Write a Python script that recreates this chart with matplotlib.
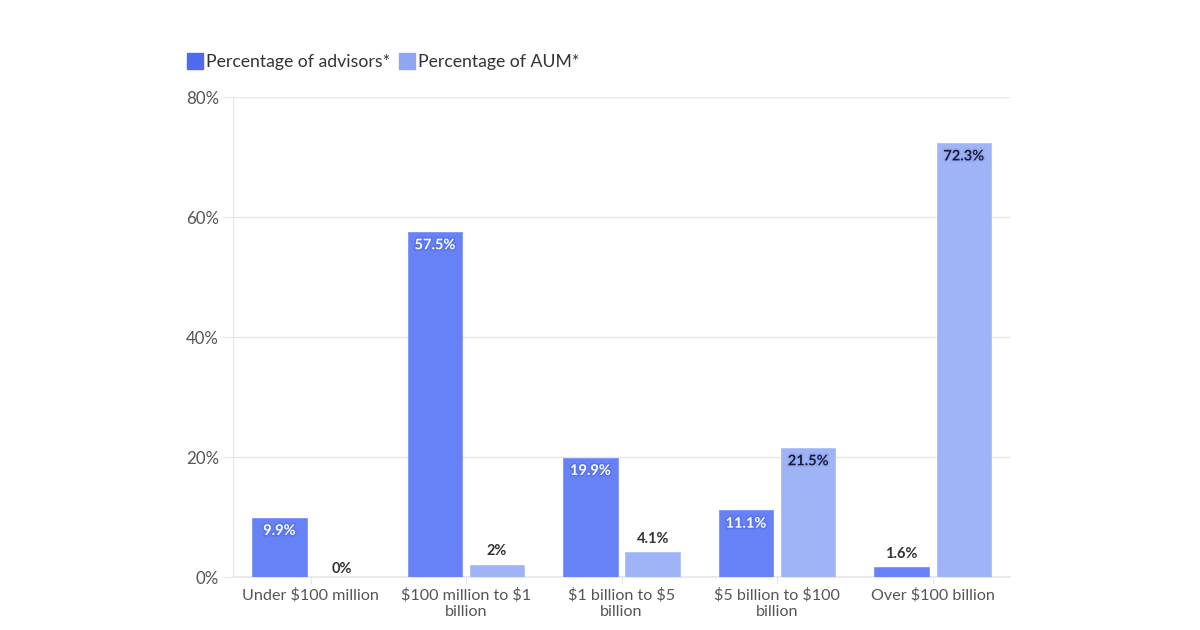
import matplotlib
matplotlib.use("Agg")
import matplotlib.pyplot as plt
import matplotlib.patheffects as pe
from matplotlib.lines import Line2D
import numpy as np

categories = ["Under \\$100 million", "\\$100 million to \\$1\nbillion", "\\$1 billion to \\$5\nbillion",
              "\\$5 billion to \\$100\nbillion", "Over \\$100 billion"]
advisors = [9.9, 57.5, 19.9, 11.1, 1.6]
aum = [0, 2, 4.1, 21.5, 72.3]
series_names = ["Percentage of advisors*", "Percentage of AUM*"]
yticks = [0, 20, 40, 60, 80]

plt.rcParams['font.family'] = ['Lato', 'DejaVu Sans']

c_adv = "#6781f6"
c_aum = "#9fb4f7"
grid_c = "#e6e6e6"
txt_c = "#555555"

fig = plt.figure(figsize=(12, 6.3), dpi=100)
ax = fig.add_axes([0.194, 0.084, 0.648, 0.762])

x = np.arange(len(categories))
w = 0.35
off = 0.2
ax.bar(x - off, advisors, w, color=c_adv, edgecolor="#7d93f7", linewidth=0.6, zorder=3)
ax.bar(x + off, aum, w, color=c_aum, edgecolor="#b0c1f8", linewidth=0.6, zorder=3)

ax.set_xlim(-0.5, 4.5)
ax.set_ylim(0, 80)
ax.set_yticks(yticks)
ax.set_yticklabels([f"{v}%" for v in yticks], fontsize=12.2, color=txt_c)
ax.set_xticks(x)
ax.set_xticklabels(categories, fontsize=11.6, color=txt_c, linespacing=1.25)
ax.yaxis.grid(True, color=grid_c, linewidth=1, zorder=0)
ax.tick_params(axis='y', length=8, color=grid_c, pad=2)
ax.tick_params(axis='x', length=5, color=grid_c, pad=3)
for s in ["top", "right"]:
    ax.spines[s].set_visible(False)
ax.spines["left"].set_color(grid_c)
ax.spines["bottom"].set_color(grid_c)
ax.spines["bottom"].set_linewidth(1.2)

def fmt(v):
    return f"{v:g}%"

def label(xc, v, color_in, halo):
    if v >= 8:
        t = ax.text(xc, v - 2.2, fmt(v), ha="center", va="center", fontsize=10.5,
                    fontweight="bold", color=color_in, zorder=5)
        t.set_path_effects([pe.withStroke(linewidth=2.5, foreground=halo)])
    else:
        y = v + 2.3 if v > 0 else 1.3
        ax.text(xc, y, fmt(v), ha="center", va="center", fontsize=10.5,
                fontweight="bold", color="#333333", zorder=5)

for xi, v in zip(x, advisors):
    label(xi - off, v, "white", "#5a75f0")
for xi, v in zip(x, aum):
    label(xi + off, v, "#1a1a2e", "#94a9f5")

handles = [Line2D([0], [0], marker="s", linestyle="none", markersize=11,
                  markerfacecolor=c, markeredgecolor=c)
           for c in ["#4f69f0", "#8fa6f5"]]
fig.legend(handles, series_names, loc="upper left", bbox_to_anchor=(0.142, 0.94),
           ncol=2, frameon=False, fontsize=12.7, handletextpad=0.1, columnspacing=0.5,
           labelcolor="#333333", handlelength=1.0)

fig.savefig("out.png", dpi=100, facecolor="white")
